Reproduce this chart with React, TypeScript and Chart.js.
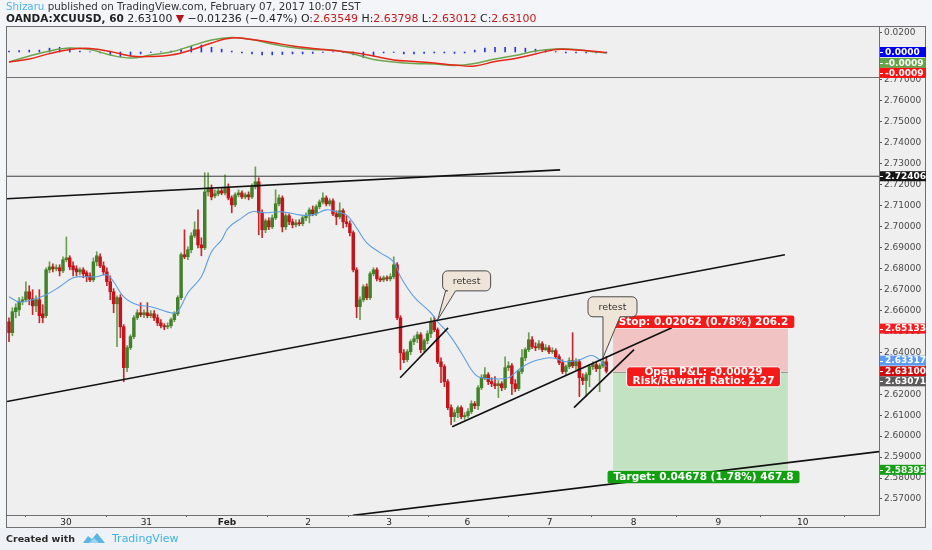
import React, { useEffect, useRef } from "react";
import { Chart, registerables } from "chart.js";

Chart.register(...registerables);

// ---------------- DATA ----------------
const opens = [
  2.6546, 2.6494, 2.6594, 2.6603, 2.6641, 2.6651, 2.6689, 2.6656, 2.6622, 2.6651,
  2.6584, 2.6575, 2.6794, 2.6808, 2.6799, 2.6804, 2.6789, 2.6842, 2.6851, 2.6813,
  2.6799, 2.6784, 2.6794, 2.678, 2.6765, 2.6746, 2.6832, 2.6856, 2.6813, 2.6784,
  2.6737, 2.6689, 2.6632, 2.6661, 2.6522, 2.6327, 2.6422, 2.6475, 2.6565, 2.6589,
  2.658, 2.6589, 2.6575, 2.6584, 2.6565, 2.6541, 2.6527, 2.6522, 2.6527, 2.6556,
  2.6584, 2.6661, 2.6866, 2.6856, 2.689, 2.6956, 2.6985, 2.6913, 2.6899, 2.7166,
  2.7185, 2.7147, 2.7157, 2.7171, 2.7161, 2.7185, 2.7137, 2.7104, 2.7152, 2.7161,
  2.7142, 2.7152, 2.7142, 2.719, 2.7214, 2.7066, 2.6985, 2.7028, 2.6999, 2.7042,
  2.7109, 2.7137, 2.6999, 2.7052, 2.7023, 2.7009, 2.7018, 2.7014, 2.7042, 2.7052,
  2.708, 2.7061, 2.7095, 2.7118, 2.7137, 2.7109, 2.7123, 2.7061, 2.7047, 2.7076,
  2.7023, 2.7014, 2.6971, 2.6794, 2.6618, 2.6651, 2.6713, 2.6661, 2.6775, 2.6794,
  2.6751, 2.6746, 2.6756, 2.6751, 2.6761, 2.6818, 2.6565, 2.6398, 2.6365, 2.6403,
  2.6451, 2.6465, 2.6484, 2.6413, 2.6456, 2.6489, 2.6546, 2.6508, 2.6355, 2.6332,
  2.626, 2.6136, 2.6093, 2.6112, 2.6136, 2.6093, 2.6098, 2.6117, 2.6155, 2.6145,
  2.6231, 2.6279, 2.6293, 2.626, 2.625, 2.6241, 2.625, 2.6231, 2.6327, 2.6336,
  2.625, 2.6227, 2.6308, 2.6374, 2.6413, 2.646, 2.6427, 2.6422, 2.6441, 2.6413,
  2.6422, 2.6403, 2.6408, 2.6379, 2.6351, 2.6308, 2.6332, 2.636, 2.6336, 2.6355,
  2.6279, 2.6265, 2.6293, 2.6332, 2.6341, 2.6322, 2.6336, 2.63549,
];
const highs = [
  2.6565, 2.6613, 2.6632, 2.6661, 2.6665, 2.6737, 2.6718, 2.6699, 2.667, 2.6699,
  2.6627, 2.6804, 2.6832, 2.6823, 2.6818, 2.6818, 2.6856, 2.6951, 2.6861, 2.6832,
  2.6813, 2.6804, 2.6804, 2.6789, 2.678, 2.6851, 2.688, 2.687, 2.6832, 2.6804,
  2.6765, 2.6704, 2.667, 2.6675, 2.6532, 2.6432, 2.6484, 2.6575, 2.6603, 2.6637,
  2.6603, 2.6637, 2.6599, 2.6599, 2.658, 2.6556, 2.6537, 2.6541, 2.6565, 2.6594,
  2.667, 2.6875, 2.6985, 2.6904, 2.6971, 2.7023, 2.708, 2.6947, 2.7257, 2.7257,
  2.7199, 2.7176, 2.7185, 2.7185, 2.7247, 2.7204, 2.7147, 2.7161, 2.7176, 2.7171,
  2.7161, 2.7166, 2.7204, 2.7285, 2.7233, 2.708, 2.7037, 2.7042, 2.7056, 2.7176,
  2.7152, 2.7147, 2.7061, 2.7061, 2.7037, 2.7033, 2.7033, 2.7052, 2.7066, 2.709,
  2.7099, 2.7104, 2.7128, 2.7161, 2.7147, 2.7133, 2.7133, 2.7076, 2.7114, 2.7085,
  2.7052, 2.7028, 2.698, 2.6804, 2.6665, 2.6723, 2.6727, 2.6784, 2.6804, 2.6804,
  2.6761, 2.6765, 2.6765, 2.6775, 2.6856, 2.6828, 2.6575, 2.6413, 2.6413, 2.646,
  2.6479, 2.6498, 2.6494, 2.6465, 2.6503, 2.6565, 2.657, 2.6517, 2.6374, 2.6341,
  2.627, 2.615, 2.6126, 2.6145, 2.6145, 2.6112, 2.6131, 2.6169, 2.6165, 2.6241,
  2.6293, 2.6327, 2.6303, 2.6279, 2.6284, 2.6265, 2.626, 2.6379, 2.6355, 2.6346,
  2.627, 2.6317, 2.6413, 2.6422, 2.6494, 2.6475, 2.6446, 2.6456, 2.6451, 2.6437,
  2.6432, 2.6422, 2.6417, 2.6389, 2.6365, 2.6341, 2.6374, 2.6494, 2.637, 2.6365,
  2.6298, 2.6303, 2.6341, 2.6355, 2.6355, 2.6346, 2.6374, 2.63798,
];
const lows = [
  2.6451, 2.6479, 2.6565, 2.6575, 2.6627, 2.6641, 2.6627, 2.658, 2.6594, 2.6541,
  2.6541, 2.6565, 2.678, 2.6784, 2.6789, 2.6765, 2.678, 2.6832, 2.6794, 2.6765,
  2.6765, 2.677, 2.6756, 2.6737, 2.6737, 2.6737, 2.6813, 2.6804, 2.677, 2.6718,
  2.6651, 2.6589, 2.6427, 2.647, 2.626, 2.6308, 2.6413, 2.6465, 2.6556, 2.657,
  2.6565, 2.6565, 2.6565, 2.6551, 2.6527, 2.6517, 2.6508, 2.6513, 2.6517, 2.6546,
  2.6575, 2.6651, 2.6847, 2.6842, 2.6875, 2.6947, 2.6899, 2.6861, 2.689, 2.7147,
  2.7128, 2.7137, 2.7147, 2.7152, 2.7152, 2.7128, 2.7066, 2.7095, 2.7142, 2.7133,
  2.7133, 2.7128, 2.7133, 2.718, 2.6961, 2.6947, 2.6971, 2.6985, 2.699, 2.7033,
  2.7099, 2.6975, 2.6985, 2.7009, 2.6994, 2.6999, 2.7004, 2.7004, 2.7028, 2.7018,
  2.7052, 2.7052, 2.7085, 2.7109, 2.7099, 2.7099, 2.7052, 2.7009, 2.7037, 2.6994,
  2.6999, 2.6956, 2.6784, 2.6565, 2.6556, 2.6641, 2.6651, 2.6651, 2.6765, 2.6741,
  2.6737, 2.6737, 2.6741, 2.6741, 2.6751, 2.6556, 2.6317, 2.6351, 2.6355, 2.6389,
  2.6437, 2.6446, 2.6398, 2.6403, 2.6441, 2.647, 2.6498, 2.6346, 2.6255, 2.6236,
  2.6126, 2.6055, 2.6069, 2.6088, 2.6083, 2.6079, 2.6088, 2.6107, 2.6131, 2.6126,
  2.6222, 2.627, 2.6246, 2.6236, 2.6227, 2.6184, 2.6217, 2.6222, 2.6312, 2.6198,
  2.6212, 2.6217, 2.6298, 2.636, 2.6403, 2.6417, 2.6408, 2.6413, 2.6403, 2.6408,
  2.6394, 2.6394, 2.637, 2.6341, 2.6298, 2.6293, 2.6322, 2.6327, 2.6317, 2.6189,
  2.6246, 2.6189, 2.6236, 2.6317, 2.6308, 2.6212, 2.6327, 2.63012,
];
const closes = [
  2.6494, 2.6594, 2.6613, 2.6641, 2.6651, 2.6689, 2.6656, 2.6622, 2.6651, 2.6575,
  2.6565, 2.6794, 2.6808, 2.6799, 2.6804, 2.6789, 2.6842, 2.6851, 2.6808, 2.6794,
  2.6784, 2.6794, 2.6775, 2.6761, 2.6746, 2.6832, 2.6861, 2.6813, 2.6784, 2.6737,
  2.6689, 2.6632, 2.6661, 2.6522, 2.6327, 2.6422, 2.6475, 2.6565, 2.6589, 2.658,
  2.6589, 2.6575, 2.6584, 2.6565, 2.6541, 2.6527, 2.6522, 2.6527, 2.6556, 2.6584,
  2.6661, 2.6866, 2.6856, 2.689, 2.6956, 2.6985, 2.6913, 2.6899, 2.7166, 2.7185,
  2.7142, 2.7157, 2.7171, 2.7161, 2.7185, 2.7137, 2.7104, 2.7152, 2.7161, 2.7142,
  2.7152, 2.7142, 2.719, 2.7214, 2.7066, 2.6985, 2.7028, 2.6999, 2.7042, 2.7109,
  2.7137, 2.6999, 2.7052, 2.7023, 2.7009, 2.7018, 2.7014, 2.7042, 2.7052, 2.708,
  2.7061, 2.7095, 2.7118, 2.7137, 2.7109, 2.7123, 2.7061, 2.7047, 2.7076, 2.7023,
  2.7014, 2.6971, 2.6794, 2.6618, 2.6651, 2.6713, 2.6661, 2.6775, 2.6794, 2.6751,
  2.6746, 2.6756, 2.6751, 2.6761, 2.6818, 2.6565, 2.6398, 2.6365, 2.6403, 2.6451,
  2.6465, 2.6484, 2.6413, 2.6456, 2.6489, 2.6546, 2.6508, 2.6355, 2.6332, 2.626,
  2.6136, 2.6093, 2.6112, 2.6136, 2.6093, 2.6098, 2.6117, 2.6155, 2.6145, 2.6231,
  2.6279, 2.6293, 2.626, 2.625, 2.6241, 2.625, 2.6231, 2.6327, 2.6336, 2.625,
  2.6227, 2.6308, 2.6374, 2.6413, 2.646, 2.6427, 2.6422, 2.6441, 2.6413, 2.6422,
  2.6403, 2.6408, 2.6379, 2.6351, 2.6308, 2.6332, 2.636, 2.6336, 2.6355, 2.6279,
  2.6265, 2.6293, 2.6332, 2.6341, 2.6322, 2.6336, 2.63549, 2.631,
];

// EMA (blue line), sampled at bar indices
const emaIdx = [0, 3, 7, 11, 15, 19, 23, 26, 29, 31, 34, 38, 42, 45, 48, 50, 53, 57, 60, 63, 65, 69, 72, 76, 80, 83, 86, 90, 94, 97, 100, 103, 106, 110, 114, 116, 120, 125, 127, 130, 134, 137, 139, 143, 148, 151, 155, 160, 162, 165, 169, 173, 177];
const emaVals = [2.6665, 2.6641, 2.6651, 2.6675, 2.6713, 2.6756, 2.6761, 2.6761, 2.677, 2.6737, 2.6665, 2.6627, 2.6618, 2.6603, 2.6589, 2.6594, 2.6684, 2.6761, 2.688, 2.6937, 2.6994, 2.7042, 2.7071, 2.7066, 2.7071, 2.7066, 2.7056, 2.7056, 2.708, 2.7071, 2.7056, 2.6994, 2.6923, 2.6875, 2.6832, 2.6761, 2.6665, 2.6589, 2.6546, 2.6494, 2.6398, 2.6317, 2.6284, 2.6274, 2.6279, 2.6317, 2.6355, 2.6374, 2.637, 2.6355, 2.6365, 2.6384, 2.63317];

// MACD panel
const macdIdx = [0, 6, 12, 18, 24, 30, 36, 42, 48, 54, 60, 66, 72, 78, 84, 90, 96, 102, 108, 114, 120, 126, 132, 138, 144, 150, 156, 162, 168, 174, 177];
const macdVals = [-0.0105, -0.0042, 0.0011, 0.0042, 0.0026, -0.0032, -0.0063, -0.0032, 0.0, 0.0063, 0.0126, 0.0152, 0.0131, 0.0084, 0.0047, 0.0026, 0.0021, -0.0021, -0.0079, -0.0105, -0.0121, -0.0126, -0.0142, -0.0121, -0.0074, -0.0037, 0.0011, 0.0032, 0.0026, 0.0, -0.0009];
const signalVals = [-0.0105, -0.0074, -0.0017, 0.0027, 0.0037, 0.0006, -0.0042, -0.0047, -0.0032, 0.0021, 0.0095, 0.0147, 0.0131, 0.01, 0.0063, 0.0037, 0.0016, -0.0005, -0.0042, -0.0084, -0.01, -0.0116, -0.0137, -0.0147, -0.01, -0.0068, -0.0021, 0.0026, 0.0021, 0.0005, -0.0009];
const histIdx = [0, 3, 6, 9, 12, 15, 18, 21, 24, 27, 30, 33, 36, 39, 42, 45, 48, 51, 54, 57, 60, 63, 66, 69, 72, 75, 78, 81, 84, 87, 90, 93, 96, 99, 102, 105, 108, 111, 114, 117, 120, 123, 126, 129, 132, 135, 138, 141, 144, 147, 150, 153, 156, 159, 162, 165, 168, 171, 174, 177];
const histVals = [
  0.001, 0.0015, 0.002, 0.002, 0.004, 0.005, 0.004, 0.001, 0.0003, -0.001,
  -0.003, -0.005, -0.004, -0.002, -0.0005, 0.0003, 0.001, 0.003, 0.006, 0.0073,
  0.005, 0.003, 0.001, -0.001, -0.002, -0.003, -0.003, -0.0026, -0.002, -0.002,
  -0.0015, -0.0005, 0.0003, -0.0005, -0.003, -0.006, -0.004, -0.001, -0.0005, -0.002,
  -0.002, -0.0015, -0.001, -0.001, -0.0015, -0.001, 0.002, 0.004, 0.005, 0.005,
  0.005, 0.004, 0.003, 0.002, 0.0005, -0.001, -0.001, -0.001, -0.001, -0.001,
];

// Axes
const priceTicks = [2.57, 2.58, 2.59, 2.6, 2.61, 2.62, 2.63, 2.64, 2.65, 2.66, 2.67, 2.68, 2.69, 2.7, 2.71, 2.72, 2.73, 2.74, 2.75, 2.76, 2.77];
const macdTicks = [0.02];
const dayTickIdx = [16.9, 40.7, 64.6, 88.6, 112.6, 135.8, 160.2, 185.1, 210.2, 235.2];
const dayLabels = ["30", "31", "Feb", "2", "3", "6", "7", "8", "9", "10"];

// Drawings: [barIndex1, price1, barIndex2, price2]
const trendUpper = [-0.593, 2.7133, 163.3, 2.7271];
const trendMiddle = [-0.593, 2.6165, 229.9, 2.6866];
const trendLower = [101.9, 2.5622, 257.78, 2.5926];
const wedge1 = [115.9, 2.6279, 130.1, 2.6517];
const wedge2Low = [131.3, 2.6045, 196.4, 2.6517];
const wedge3 = [167.4, 2.6136, 185.2, 2.6413];
const levelPrice = 2.72406;

const calloutText = ["retest", "retest"];
const calloutIdx = [127.0, 176.0];
const calloutPrice = [2.6555, 2.6374];

// Position (short) tool
const entryPrice = 2.63071;
const stopPrice = 2.65133;
const targetPrice = 2.58393;
const positionStartIdx = 179.0;
const positionEndIdx = 230.8;
const stopText = "Stop: 0.02062 (0.78%) 206.2";
const pnlText = ["Open P&L: -0.00029", "Risk/Reward Ratio: 2.27"];
const targetText = "Target: 0.04678 (1.78%) 467.8";

// Axis price tags
const priceTagVals = [2.72406, 2.65133, 2.63317, 2.631, 2.63071, 2.58393];
const macdTagVals = [0.0, -0.0009, -0.0009];

// Header
const headerAuthor = "Shizaru";
const headerRest = " published on TradingView.com, February 07, 2017 10:07 EST";
const symbolText = "OANDA:XCUUSD, 60";
const lastText = "2.63100";
const changeText = "\u22120.01236 (\u22120.47%)";
const ohlcLabels = ["O:", "H:", "L:", "C:"];
const ohlcVals = ["2.63549", "2.63798", "2.63012", "2.63100"];

// ---------------- STYLE / LAYOUT ----------------
const W = 932;
const H = 550;
const FONT = "'DejaVu Sans', Verdana, sans-serif";
const X_MIN = -0.593;
const X_MAX = 257.78;
const PRICE_MIN = 2.56236;
const PRICE_MAX = 2.77143;
const MACD_MIN = -0.02625;
const MACD_MAX = 0.02625;
const PAGE_BG = "#f3f5f8";
const PANEL_BG = "#efefef";
const FRAME = "#6f6f6f";
const UP = "#42802a";
const DOWN = "#c3141b";
const UP_WICK = "#6a9f4e";
const DOWN_WICK = "#c12a2a";

const priceTagStyles = [
  { bg: "#151515", dy: 0 },
  { bg: "#f31b1b", dy: 0 },
  { bg: "#5b9cf2", dy: -6 },
  { bg: "#d10c0c", dy: 0 },
  { bg: "#5c5c5c", dy: 9.5 },
  { bg: "#13a013", dy: 0 },
];
const macdTagStyles = [
  { bg: "#0000f0", dy: 0 },
  { bg: "#64a447", dy: 10 },
  { bg: "#ff1111", dy: 20 },
];
const calloutStyles = [
  { dx: 5, dy: -49, w: 48, h: 20, b1: 8, b2: 18 },
  { dx: -15, dy: -61, w: 49, h: 20, b1: 0, b2: 17 },
];

function labelFor(v: number): string {
  const k = dayTickIdx.indexOf(v);
  return k >= 0 ? dayLabels[k] : "";
}

function rr(ctx: any, x: number, y: number, w: number, h: number, r: number) {
  ctx.beginPath();
  ctx.moveTo(x + r, y);
  ctx.arcTo(x + w, y, x + w, y + h, r);
  ctx.arcTo(x + w, y + h, x, y + h, r);
  ctx.arcTo(x, y + h, x, y, r);
  ctx.arcTo(x, y, x + w, y, r);
  ctx.closePath();
}

const overlay = {
  id: "overlay",
  beforeDraw(chart: any) {
    const ctx = chart.ctx;
    ctx.save();
    ctx.fillStyle = PAGE_BG;
    ctx.fillRect(0, 0, W, H);
    ctx.fillStyle = PANEL_BG;
    ctx.fillRect(6, 26, 920, 502);
    ctx.fillStyle = "#eef2f6";
    ctx.fillRect(0, 528, W, H - 528);

    // header line 1
    ctx.textBaseline = "middle";
    ctx.textAlign = "left";
    let x = 6;
    ctx.font = `10.3px ${FONT}`;
    ctx.fillStyle = "#4fb3e6";
    ctx.fillText(headerAuthor, x, 7.5);
    x += ctx.measureText(headerAuthor).width;
    ctx.fillStyle = "#333";
    ctx.fillText(headerRest, x, 7.5);

    // header line 2
    const segs: any[] = [
      [symbolText, "bold", "#222", 10.5],
      [" " + lastText + " ", "normal", "#222", 10.9],
      ["\u25BC", "normal", "#b8141b", 10.9],
      [" " + changeText + " ", "normal", "#222", 10.9],
    ];
    ohlcLabels.forEach((l, i) => {
      segs.push([(i > 0 ? " " : "") + l, "normal", "#222", 10.9]);
      segs.push([ohlcVals[i], "normal", "#c21a1a", 10.9]);
    });
    x = 6;
    for (const s of segs) {
      ctx.font = `${s[1]} ${s[3]}px ${FONT}`;
      ctx.fillStyle = s[2];
      ctx.fillText(s[0], x, 19.5);
      x += ctx.measureText(s[0]).width;
    }
    ctx.restore();
  },
  beforeDatasetsDraw(chart: any) {
    const { ctx, scales } = chart;
    const xs = scales.x;
    const ys = scales.y;
    const x1 = xs.getPixelForValue(positionStartIdx);
    const x2 = xs.getPixelForValue(positionEndIdx);
    const yE = ys.getPixelForValue(entryPrice);
    const yS = ys.getPixelForValue(stopPrice);
    const yT = ys.getPixelForValue(targetPrice);
    ctx.save();
    ctx.fillStyle = "#f1c3c3";
    ctx.fillRect(x1, yS, x2 - x1, yE - yS);
    ctx.fillStyle = "#c3e2c2";
    ctx.fillRect(x1, yE, x2 - x1, yT - yE);
    ctx.strokeStyle = "#9a9a9a";
    ctx.lineWidth = 1;
    ctx.beginPath();
    ctx.moveTo(x1, Math.round(yE) + 0.5);
    ctx.lineTo(x2, Math.round(yE) + 0.5);
    ctx.stroke();
    ctx.restore();
  },
  afterDatasetsDraw(chart: any) {
    const { ctx, scales } = chart;
    const xs = scales.x;
    const ys = scales.y;
    const x1 = xs.getPixelForValue(positionStartIdx);
    const x2 = xs.getPixelForValue(positionEndIdx);
    const cx = (x1 + x2) / 2 + 3;
    const yE = ys.getPixelForValue(entryPrice);
    const yS = ys.getPixelForValue(stopPrice);
    const yT = ys.getPixelForValue(targetPrice);
    ctx.save();
    ctx.textAlign = "center";
    ctx.textBaseline = "middle";
    ctx.font = `bold 10.5px ${FONT}`;
    // stop label
    let tw = ctx.measureText(stopText).width + 12;
    ctx.fillStyle = "#f41a1a";
    rr(ctx, cx - tw / 2, yS - 13, tw, 12.5, 2);
    ctx.fill();
    ctx.fillStyle = "#fff";
    ctx.fillText(stopText, cx, yS - 6.5);
    // pnl label
    tw = Math.max(ctx.measureText(pnlText[0]).width, ctx.measureText(pnlText[1]).width) + 12;
    ctx.fillStyle = "#f41a1a";
    rr(ctx, cx - tw / 2, yE - 5, tw, 20, 3);
    ctx.fill();
    ctx.strokeStyle = "#ffffff";
    ctx.lineWidth = 1;
    ctx.stroke();
    ctx.fillStyle = "#fff";
    ctx.fillText(pnlText[0], cx, yE + 0.5);
    ctx.fillText(pnlText[1], cx, yE + 9.5);
    // target label
    tw = ctx.measureText(targetText).width + 12;
    ctx.fillStyle = "#10a010";
    rr(ctx, cx - tw / 2, yT + 1, tw, 12.5, 2);
    ctx.fill();
    ctx.fillStyle = "#fff";
    ctx.fillText(targetText, cx, yT + 7.5);

    // callouts
    ctx.font = `9.5px ${FONT}`;
    calloutText.forEach((t, i) => {
      const st = calloutStyles[i];
      const tx = xs.getPixelForValue(calloutIdx[i]);
      const ty = ys.getPixelForValue(calloutPrice[i]);
      const bx = tx + st.dx;
      const by = ty + st.dy;
      const r = 5;
      const b1 = tx + st.b1;
      const b2 = tx + st.b2;
      ctx.beginPath();
      ctx.moveTo(bx + r, by);
      ctx.lineTo(bx + st.w - r, by);
      ctx.arcTo(bx + st.w, by, bx + st.w, by + r, r);
      ctx.lineTo(bx + st.w, by + st.h - r);
      ctx.arcTo(bx + st.w, by + st.h, bx + st.w - r, by + st.h, r);
      ctx.lineTo(b2, by + st.h);
      ctx.lineTo(tx, ty);
      ctx.lineTo(b1, by + st.h);
      ctx.lineTo(bx + r, by + st.h);
      ctx.arcTo(bx, by + st.h, bx, by + st.h - r, r);
      ctx.lineTo(bx, by + r);
      ctx.arcTo(bx, by, bx + r, by, r);
      ctx.closePath();
      ctx.fillStyle = "#eee5d8";
      ctx.fill();
      ctx.strokeStyle = "#4a4a4a";
      ctx.lineWidth = 1;
      ctx.stroke();
      ctx.fillStyle = "#333";
      ctx.fillText(t, bx + st.w / 2, by + st.h / 2 + 0.5);
    });
    ctx.restore();
  },
  afterDraw(chart: any) {
    const { ctx, scales } = chart;
    ctx.save();
    // frame
    ctx.strokeStyle = FRAME;
    ctx.lineWidth = 1;
    ctx.strokeRect(6.5, 26.5, 919, 501);
    ctx.beginPath();
    ctx.moveTo(6, 77.5);
    ctx.lineTo(926, 77.5);
    ctx.moveTo(879.5, 26);
    ctx.lineTo(879.5, 515.5);
    ctx.moveTo(6, 515.5);
    ctx.lineTo(880, 515.5);
    ctx.stroke();

    // price tags
    ctx.textAlign = "left";
    ctx.textBaseline = "middle";
    ctx.font = `bold 9px ${FONT}`;
    const drawTag = (y: number, text: string, bg: string) => {
      ctx.fillStyle = bg;
      ctx.fillRect(880, y - 5, 46, 10);
      ctx.fillStyle = "#fff";
      ctx.fillRect(880, Math.round(y), 3, 1);
      ctx.fillText(text, 885, y + 0.5);
    };
    priceTagVals.forEach((v, i) => {
      const y = scales.y.getPixelForValue(v) + priceTagStyles[i].dy;
      drawTag(y, v.toFixed(5), priceTagStyles[i].bg);
    });
    macdTagVals.forEach((v, i) => {
      const y = scales.macd.getPixelForValue(v) + macdTagStyles[i].dy;
      drawTag(y, v.toFixed(4), macdTagStyles[i].bg);
    });

    // footer
    ctx.font = `bold 9.5px ${FONT}`;
    ctx.fillStyle = "#2a2a2a";
    ctx.fillText("Created with", 6, 539.5);
    // logo
    ctx.fillStyle = "#5cb6e4";
    ctx.beginPath();
    ctx.moveTo(83, 543);
    ctx.lineTo(88, 536);
    ctx.lineTo(92, 539);
    ctx.lineTo(97, 533);
    ctx.lineTo(105, 543);
    ctx.closePath();
    ctx.fill();
    ctx.fillStyle = "#9fd4ef";
    ctx.beginPath();
    ctx.moveTo(89, 543);
    ctx.lineTo(94, 538);
    ctx.lineTo(99, 543);
    ctx.closePath();
    ctx.fill();
    ctx.font = `11px ${FONT}`;
    ctx.fillStyle = "#3fb1e3";
    ctx.fillText("TradingView", 112, 539.5);
    ctx.restore();
  },
};

export default function App() {
  const ref = useRef<HTMLCanvasElement>(null);
  useEffect(() => {
    const canvas = ref.current as HTMLCanvasElement;
    Chart.defaults.font.family = FONT;
    const idx = closes.map((_, i) => i);
    const isUp = (i: number) => closes[i] >= opens[i];
    const line = (t: number[], color: string, width: number) => ({
      type: "line",
      data: [
        { x: t[0], y: t[1] },
        { x: t[2], y: t[3] },
      ],
      borderColor: color,
      borderWidth: width,
      pointRadius: 0,
      tension: 0,
      yAxisID: "y",
      order: 0,
    });
    const chart = new Chart(canvas, {
      type: "bar",
      data: {
        datasets: [
          line(trendUpper, "#111", 1.6),
          line(trendMiddle, "#111", 1.6),
          line(trendLower, "#111", 1.6),
          line(wedge1, "#111", 1.6),
          line(wedge2Low, "#111", 1.6),
          line(wedge3, "#111", 1.6),
          line([X_MIN, levelPrice, X_MAX, levelPrice], "#3c3c3c", 1),
          {
            type: "line",
            data: emaIdx.map((x, k) => ({ x, y: emaVals[k] })),
            borderColor: "#5d9ee2",
            borderWidth: 1.1,
            pointRadius: 0,
            tension: 0.4,
            yAxisID: "y",
            order: 1,
          },
          {
            type: "bar",
            data: idx.map((i) => ({ x: i, y: [opens[i], closes[i]] })),
            backgroundColor: (c: any) => (isUp(c.dataIndex) ? UP : DOWN),
            barThickness: 2.8,
            minBarLength: 1,
            grouped: false,
            yAxisID: "y",
            order: 2,
          },
          {
            type: "bar",
            data: idx.map((i) => ({ x: i, y: [lows[i], highs[i]] })),
            backgroundColor: (c: any) => (isUp(c.dataIndex) ? UP_WICK : DOWN_WICK),
            barThickness: 1,
            grouped: false,
            yAxisID: "y",
            order: 3,
          },
          {
            type: "line",
            data: macdIdx.map((x, k) => ({ x, y: signalVals[k] })),
            borderColor: "#ea2418",
            borderWidth: 1.5,
            pointRadius: 0,
            tension: 0.4,
            yAxisID: "macd",
            order: 4,
          },
          {
            type: "line",
            data: macdIdx.map((x, k) => ({ x, y: macdVals[k] })),
            borderColor: "#6aa64c",
            borderWidth: 1.5,
            pointRadius: 0,
            tension: 0.4,
            yAxisID: "macd",
            order: 5,
          },
          {
            type: "bar",
            data: histIdx.map((x, k) => ({ x, y: histVals[k] })),
            backgroundColor: "#2736d8",
            barThickness: 1,
            grouped: false,
            yAxisID: "macd",
            order: 6,
          },
        ],
      } as any,
      options: {
        responsive: false,
        animation: false,
        devicePixelRatio: 1,
        events: [],
        layout: { padding: { left: 7, top: 27, right: 6, bottom: 22 }, autoPadding: false },
        plugins: { legend: { display: false }, tooltip: { enabled: false } },
        scales: {
          x: {
            type: "linear",
            position: "bottom",
            min: X_MIN,
            max: X_MAX,
            offset: false,
            grid: { display: true, drawOnChartArea: false, drawTicks: true, tickLength: 2, color: "#555" },
            border: { display: false },
            ticks: {
              autoSkip: false,
              maxRotation: 0,
              padding: 0,
              color: "#222",
              font: (c: any) => ({
                family: FONT,
                size: 9,
                weight: c.tick && labelFor(c.tick.value) === "Feb" ? "bold" : "normal",
              }),
              callback: (v: any) => labelFor(Number(v)),
            },
            afterBuildTicks: (s: any) => {
              s.ticks = dayTickIdx.map((v) => ({ value: v }));
            },
            afterFit: (s: any) => {
              s.height = 13;
              s.paddingLeft = 0;
              s.paddingRight = 0;
            },
          },
          macd: {
            type: "linear",
            position: "right",
            axis: "y",
            stack: "panes",
            stackWeight: 50,
            min: MACD_MIN,
            max: MACD_MAX,
            grid: { display: true, drawOnChartArea: false, drawTicks: true, tickLength: 3, color: "#555" },
            border: { display: false },
            ticks: {
              autoSkip: false,
              padding: 2,
              color: "#4a4a4a",
              font: { family: FONT, size: 9 },
              callback: (v: any) => Number(v).toFixed(4),
            },
            afterBuildTicks: (s: any) => {
              s.ticks = macdTicks.map((v) => ({ value: v }));
            },
            afterFit: (s: any) => {
              s.width = 47;
              s.paddingTop = 0;
              s.paddingBottom = 0;
            },
          },
          y: {
            type: "linear",
            position: "right",
            stack: "panes",
            stackWeight: 438,
            min: PRICE_MIN,
            max: PRICE_MAX,
            grid: { display: true, drawOnChartArea: false, drawTicks: true, tickLength: 3, color: "#555" },
            border: { display: false },
            ticks: {
              autoSkip: false,
              padding: 2,
              color: "#4a4a4a",
              font: { family: FONT, size: 9 },
              callback: (v: any) => Number(v).toFixed(5),
            },
            afterBuildTicks: (s: any) => {
              s.ticks = priceTicks.map((v) => ({ value: v }));
            },
            afterFit: (s: any) => {
              s.width = 47;
              s.paddingTop = 0;
              s.paddingBottom = 0;
            },
          },
        },
      } as any,
      plugins: [overlay as any],
    });
    return () => chart.destroy();
  }, []);
  return (
    <div style={{ position: "absolute", left: 0, top: 0, width: W, height: H, background: PAGE_BG }}>
      <canvas ref={ref} width={W} height={H} style={{ display: "block", width: W, height: H }} />
    </div>
  );
}
